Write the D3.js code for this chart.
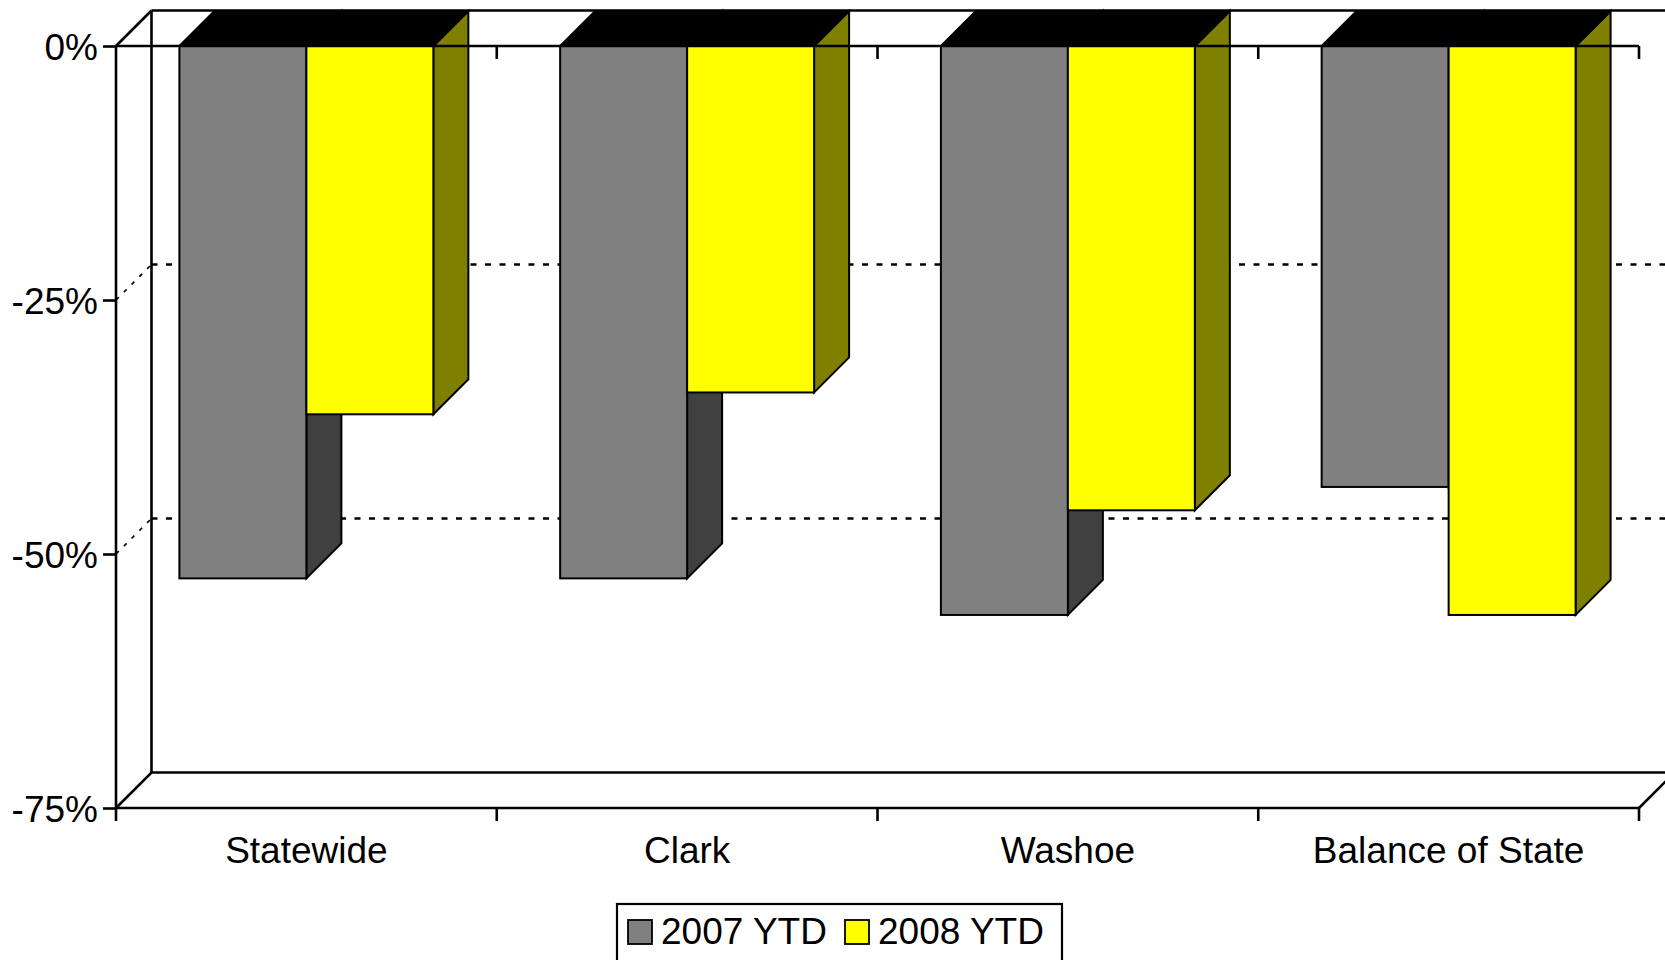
<!DOCTYPE html>
<html>
<head>
<meta charset="utf-8">
<script src="https://cdn.jsdelivr.net/npm/d3@7"></script>
<style>
  html, body { margin: 0; padding: 0; background: #fff; }
  svg { display: block; font-family: "Liberation Sans", Arial, sans-serif; }
</style>
</head>
<body>
<svg id="chart" width="1665" height="960"></svg>
<script>
// Year-to-date percentage change by region
const categories = ["Statewide", "Clark", "Washoe", "Balance of State"];
const series = ["2007 YTD", "2008 YTD"];
const values2007 = [-52.4, -52.4, -56.0, -43.4];
const values2008 = [-36.25, -34.1, -45.7, -56.0];
const yTicks = [0, -25, -50, -75];

const frontColors = { "2007 YTD": "#808080", "2008 YTD": "#ffff00" };
const sideColors  = { "2007 YTD": "#404040", "2008 YTD": "#808000" };
const topColor = "#000000";
const fontFamily = "'Liberation Sans', Arial, sans-serif";

const svg = d3.select("#chart");

// Oblique 3D frame: front plane plus a depth offset to the back wall
const plotLeft = 116, plotRight = 1639, plotTop = 46, plotBottom = 808;
const depth = 35.5;      // wall depth (dx and -dy)
const barDepth = 35;     // column depth

const x = d3.scaleBand().domain(categories).range([plotLeft, plotRight]).padding(0);
const bandW = x.bandwidth();
const x1 = d3.scaleBand().domain(series)
  .range([bandW * 0.1665, bandW * 0.8335]).padding(0);
const y = d3.scaleLinear().domain([0, -75]).range([plotTop, plotBottom]);

const data = categories.map((c, i) => ({
  category: c,
  values: [
    { key: series[0], value: values2007[i] },
    { key: series[1], value: values2008[i] }
  ]
}));

// ---- back wall, floor and gridlines ----
const frame = svg.append("g").attr("stroke", "#000").attr("fill", "none");

// gridlines on the back wall (skip 0 and the floor)
const gridTicks = yTicks.filter(t => t !== 0 && t !== -75);
frame.selectAll("line.grid")
  .data(gridTicks).join("line")
  .attr("class", "grid")
  .attr("x1", plotLeft + depth).attr("x2", 1700)
  .attr("y1", d => y(d) - depth).attr("y2", d => y(d) - depth)
  .attr("stroke-width", 2.6)
  .attr("stroke-dasharray", "6 8.5");

// dotted gridlines on the side wall
frame.selectAll("line.sidegrid")
  .data(gridTicks).join("line")
  .attr("class", "sidegrid")
  .attr("x1", plotLeft).attr("y1", d => y(d))
  .attr("x2", plotLeft + depth).attr("y2", d => y(d) - depth)
  .attr("stroke-width", 1.6)
  .attr("stroke-dasharray", "4 7");

// back wall left edge and top edge
frame.append("line")
  .attr("x1", plotLeft + depth).attr("y1", plotTop - depth)
  .attr("x2", plotLeft + depth).attr("y2", plotBottom - depth)
  .attr("stroke-width", 2.6);
frame.append("line")
  .attr("x1", plotLeft + depth).attr("y1", plotTop - depth)
  .attr("x2", 1700).attr("y2", plotTop - depth)
  .attr("stroke-width", 2.6);
frame.append("line")
  .attr("x1", plotLeft).attr("y1", plotTop)
  .attr("x2", plotLeft + depth).attr("y2", plotTop - depth)
  .attr("stroke-width", 2.6);

// floor
frame.append("path")
  .attr("d", `M${plotLeft},${plotBottom} L${plotLeft + depth},${plotBottom - depth} L1700,${plotBottom - depth}
              M${plotRight},${plotBottom} L${plotRight + depth},${plotBottom - depth}`)
  .attr("stroke-width", 2.6);
frame.append("line")
  .attr("x1", plotLeft).attr("y1", plotBottom)
  .attr("x2", plotRight).attr("y2", plotBottom)
  .attr("stroke-width", 2.6);

// ---- columns ----
const bars = svg.append("g").attr("stroke", "#000").attr("stroke-width", 2)
  .attr("stroke-linejoin", "miter");

data.forEach(d => {
  d.values.forEach(v => {
    const x0 = x(d.category) + x1(v.key);
    const xr = x0 + x1.bandwidth();
    const y0 = y(0), yv = y(v.value);
    const g = bars.append("g");
    // right side face
    g.append("path")
      .attr("d", `M${xr},${y0} L${xr + barDepth},${y0 - barDepth} L${xr + barDepth},${yv - barDepth} L${xr},${yv} Z`)
      .attr("fill", sideColors[v.key]);
    // top face at the zero plane
    g.append("path")
      .attr("d", `M${x0},${y0} L${x0 + barDepth},${y0 - barDepth} L${xr + barDepth},${y0 - barDepth} L${xr},${y0} Z`)
      .attr("fill", topColor);
    // front face
    g.append("rect")
      .attr("x", x0).attr("y", y0)
      .attr("width", x1.bandwidth()).attr("height", yv - y0)
      .attr("fill", frontColors[v.key]);
  });
});

// ---- axes ----
const yAxis = svg.append("g")
  .attr("transform", `translate(${plotLeft},0)`)
  .call(d3.axisLeft(y).tickValues(yTicks).tickFormat(d => d + "%")
    .tickSize(13).tickSizeOuter(0).tickPadding(5));
yAxis.select(".domain").remove();
yAxis.selectAll(".tick line").attr("stroke", "#000").attr("stroke-width", 2.6);
yAxis.selectAll(".tick text")
  .attr("fill", "#000").attr("font-size", 37).attr("dy", "0.36em")
  .attr("font-family", fontFamily);

// vertical value axis line
svg.append("line")
  .attr("x1", plotLeft).attr("x2", plotLeft)
  .attr("y1", plotTop).attr("y2", plotBottom + 13)
  .attr("stroke", "#000").attr("stroke-width", 2.6);

// category axis at zero, drawn over the columns
svg.append("line")
  .attr("x1", plotLeft).attr("x2", plotRight)
  .attr("y1", y(0)).attr("y2", y(0))
  .attr("stroke", "#000").attr("stroke-width", 2.6);

// category boundary ticks (at zero and at the floor)
const boundaries = categories.map(c => x(c)).concat([x.range()[1]]).slice(1);
svg.selectAll("line.ctick-top").data(boundaries).join("line")
  .attr("class", "ctick-top")
  .attr("x1", d => d).attr("x2", d => d)
  .attr("y1", y(0)).attr("y2", y(0) + 13)
  .attr("stroke", "#000").attr("stroke-width", 2.6);
svg.selectAll("line.ctick-bot").data(boundaries).join("line")
  .attr("class", "ctick-bot")
  .attr("x1", d => d).attr("x2", d => d)
  .attr("y1", plotBottom).attr("y2", plotBottom + 13)
  .attr("stroke", "#000").attr("stroke-width", 2.6);

// category labels
const xAxis = svg.append("g")
  .attr("transform", `translate(0,${plotBottom})`)
  .call(d3.axisBottom(x).tickSize(0).tickPadding(0));
xAxis.select(".domain").remove();
xAxis.selectAll(".tick text")
  .attr("fill", "#000").attr("font-size", 37)
  .attr("font-family", fontFamily)
  .attr("y", 55).attr("dy", 0);

// ---- legend ----
const legend = svg.append("g");
legend.append("rect")
  .attr("x", 617).attr("y", 904).attr("width", 445).attr("height", 80)
  .attr("fill", "#fff").attr("stroke", "#000").attr("stroke-width", 2.2);
const legendX = [628, 845];
series.forEach((s, i) => {
  legend.append("rect")
    .attr("x", legendX[i]).attr("y", 920).attr("width", 24).attr("height", 24)
    .attr("fill", frontColors[s]).attr("stroke", "#000").attr("stroke-width", 1.8);
  legend.append("text")
    .attr("x", legendX[i] + 33).attr("y", 944)
    .attr("font-size", 37).attr("fill", "#000")
    .attr("font-family", fontFamily)
    .text(s);
});
</script>
</body>
</html>
